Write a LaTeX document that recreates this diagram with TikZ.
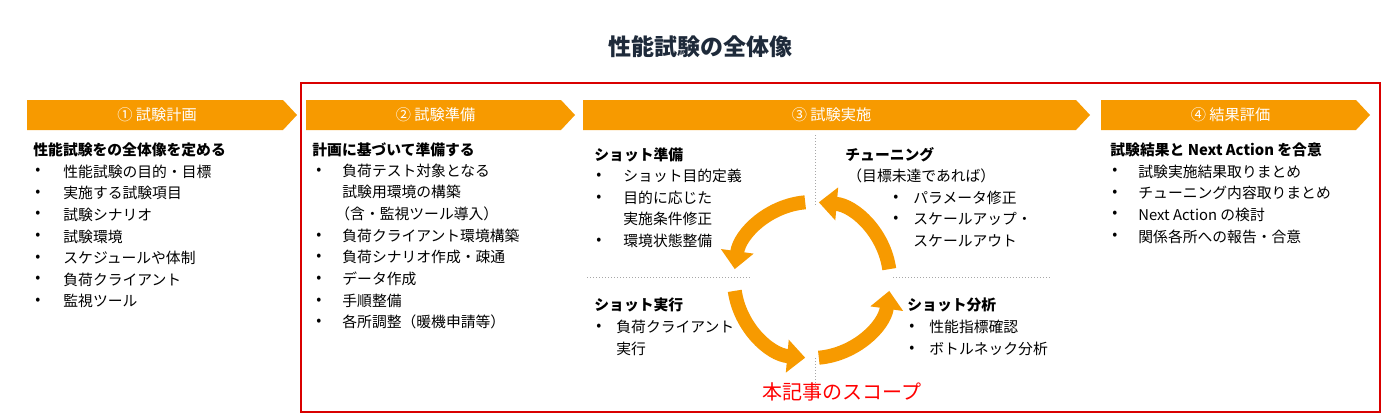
\documentclass[tikz,border=0pt]{standalone}
\usepackage{fontspec}
\setmainfont{Noto Sans CJK JP}
\usetikzlibrary{arrows.meta}
\definecolor{stageorange}{HTML}{F79A00}
\definecolor{titlenavy}{HTML}{1E2A3A}
\newcommand{\stagebar}[4]{% x0, x1, name, label
  \fill[stageorange] (#1,100) -- (#2-14,100) -- (#2,115) -- (#2-14,130) -- (#1,130) -- cycle;
  \node[stagelabel] (#3) at ({(#1+#2-10)/2},115) {#4};}
\begin{document}
\begin{tikzpicture}[x=0.5pt,y=-0.5pt,
  stagelabel/.style={text=white,font=\fontsize{7.6}{9}\selectfont},
  head/.style={anchor=west,inner sep=0pt,font=\fontsize{7.4}{9}\selectfont\bfseries},
  item/.style={anchor=west,inner sep=0pt,font=\fontsize{7.4}{9}\selectfont},
  cyclearrow/.style={stageorange,line width=7pt,-{Triangle[width=16pt,length=9pt]}},
  sep/.style={gray!70,densely dotted,line width=0.5pt}]

  \useasboundingbox (0,0) rectangle (1400,418);

  \node[text=titlenavy,font=\fontsize{11.5}{13}\selectfont\bfseries] (title) at (700,47) {性能試験の全体像};
  \draw[red!85!black,line width=0.7pt] (301,83) rectangle (1380,412);

  % stages
  \stagebar{27}{297}{s1}{① 試験計画}
  \stagebar{306}{575}{s2}{② 試験準備}
  \stagebar{583}{1090}{s3}{③ 試験実施}
  \stagebar{1101}{1370}{s4}{④ 結果評価}

  % 1
  \node[head] (p1) at (33,150) {性能試験をの全体像を定める};
  \foreach \t [count=\i] in {性能試験の目的・目標,実施する試験項目,試験シナリオ,試験環境,スケジュールや体制,負荷クライアント,監視ツール}{
    \node[item] at (35,{150+21.6*\i}) {•};
    \node[item] (p1i\i) at (63,{150+21.6*\i}) {\t};
  }

  % 2
  \node[head] (p2) at (312,150) {計画に基づいて準備する};
  \foreach \y/\t in {171/負荷テスト対象となる,236/負荷クライアント環境構築,257/負荷シナリオ作成・疎通,279/データ作成,301/手順整備,322/各所調整（暖機申請等）}{
    \node[item] at (316,\y) {•};
    \node[item] at (342,\y) {\t};
  }
  \node[item] (p2a) at (342,192) {試験用環境の構築};
  \node[item] (p2b) at (335,214) {（含・監視ツール導入）};

  % 3
  \draw[sep] (587,277) -- (750,277);
  \draw[sep] (893,277) -- (1052,277);
  \draw[sep] (815,135) -- (815,205);
  \draw[sep] (815,358) -- (815,390);
  \coordinate (c) at (812,280);
  \draw[cyclearrow] ([shift={(-95:78)}]c) arc[start angle=-95,end angle=-172,radius=78];
  \draw[cyclearrow] ([shift={(-188:78)}]c) arc[start angle=-188,end angle=-265,radius=78];
  \draw[cyclearrow] ([shift={(-275:78)}]c) arc[start angle=-275,end angle=-352,radius=78];
  \draw[cyclearrow] ([shift={(-8:78)}]c) arc[start angle=-8,end angle=-85,radius=78];

  \node[head] (tl) at (594,155) {ショット準備};
  \foreach \y/\t in {176/ショット目的定義,198/目的に応じた,241/環境状態整備}{
    \node[item] at (596,\y) {•};
    \node[item] at (623,\y) {\t};
  }
  \node[item] at (623,219) {実施条件修正};

  \node[head] (tr) at (845,155) {チューニング};
  \node[item] at (847,176) {（目標未達であれば）};
  \foreach \y/\t in {198/パラメータ修正,219/スケールアップ・}{
    \node[item] at (893,\y) {•};
    \node[item] at (913,\y) {\t};
  }
  \node[item] at (913,241) {スケールアウト};

  \node[head] (bl) at (594,305) {ショット実行};
  \node[item] at (596,327) {•};
  \node[item] at (616,327) {負荷クライアント};
  \node[item] at (616,349) {実行};

  \node[head] (br) at (907,305) {ショット分析};
  \foreach \y/\t in {327/性能指標確認,349/ボトルネック分析}{
    \node[item] at (909,\y) {•};
    \node[item] at (929,\y) {\t};
  }

  \node[text=red,font=\fontsize{10}{12}\selectfont] (scope) at (842,392) {本記事のスコープ};

  % 4
  \node[head] (p4) at (1110,150) {試験結果と Next Action を合意};
  \foreach \t [count=\i] in {試験実施結果取りまとめ,チューニング内容取りまとめ,Next Action の検討,関係各所への報告・合意}{
    \node[item] at (1112,{150+21.6*\i}) {•};
    \node[item] (p4i\i) at (1138,{150+21.6*\i}) {\t};
  }
\end{tikzpicture}
\end{document}
